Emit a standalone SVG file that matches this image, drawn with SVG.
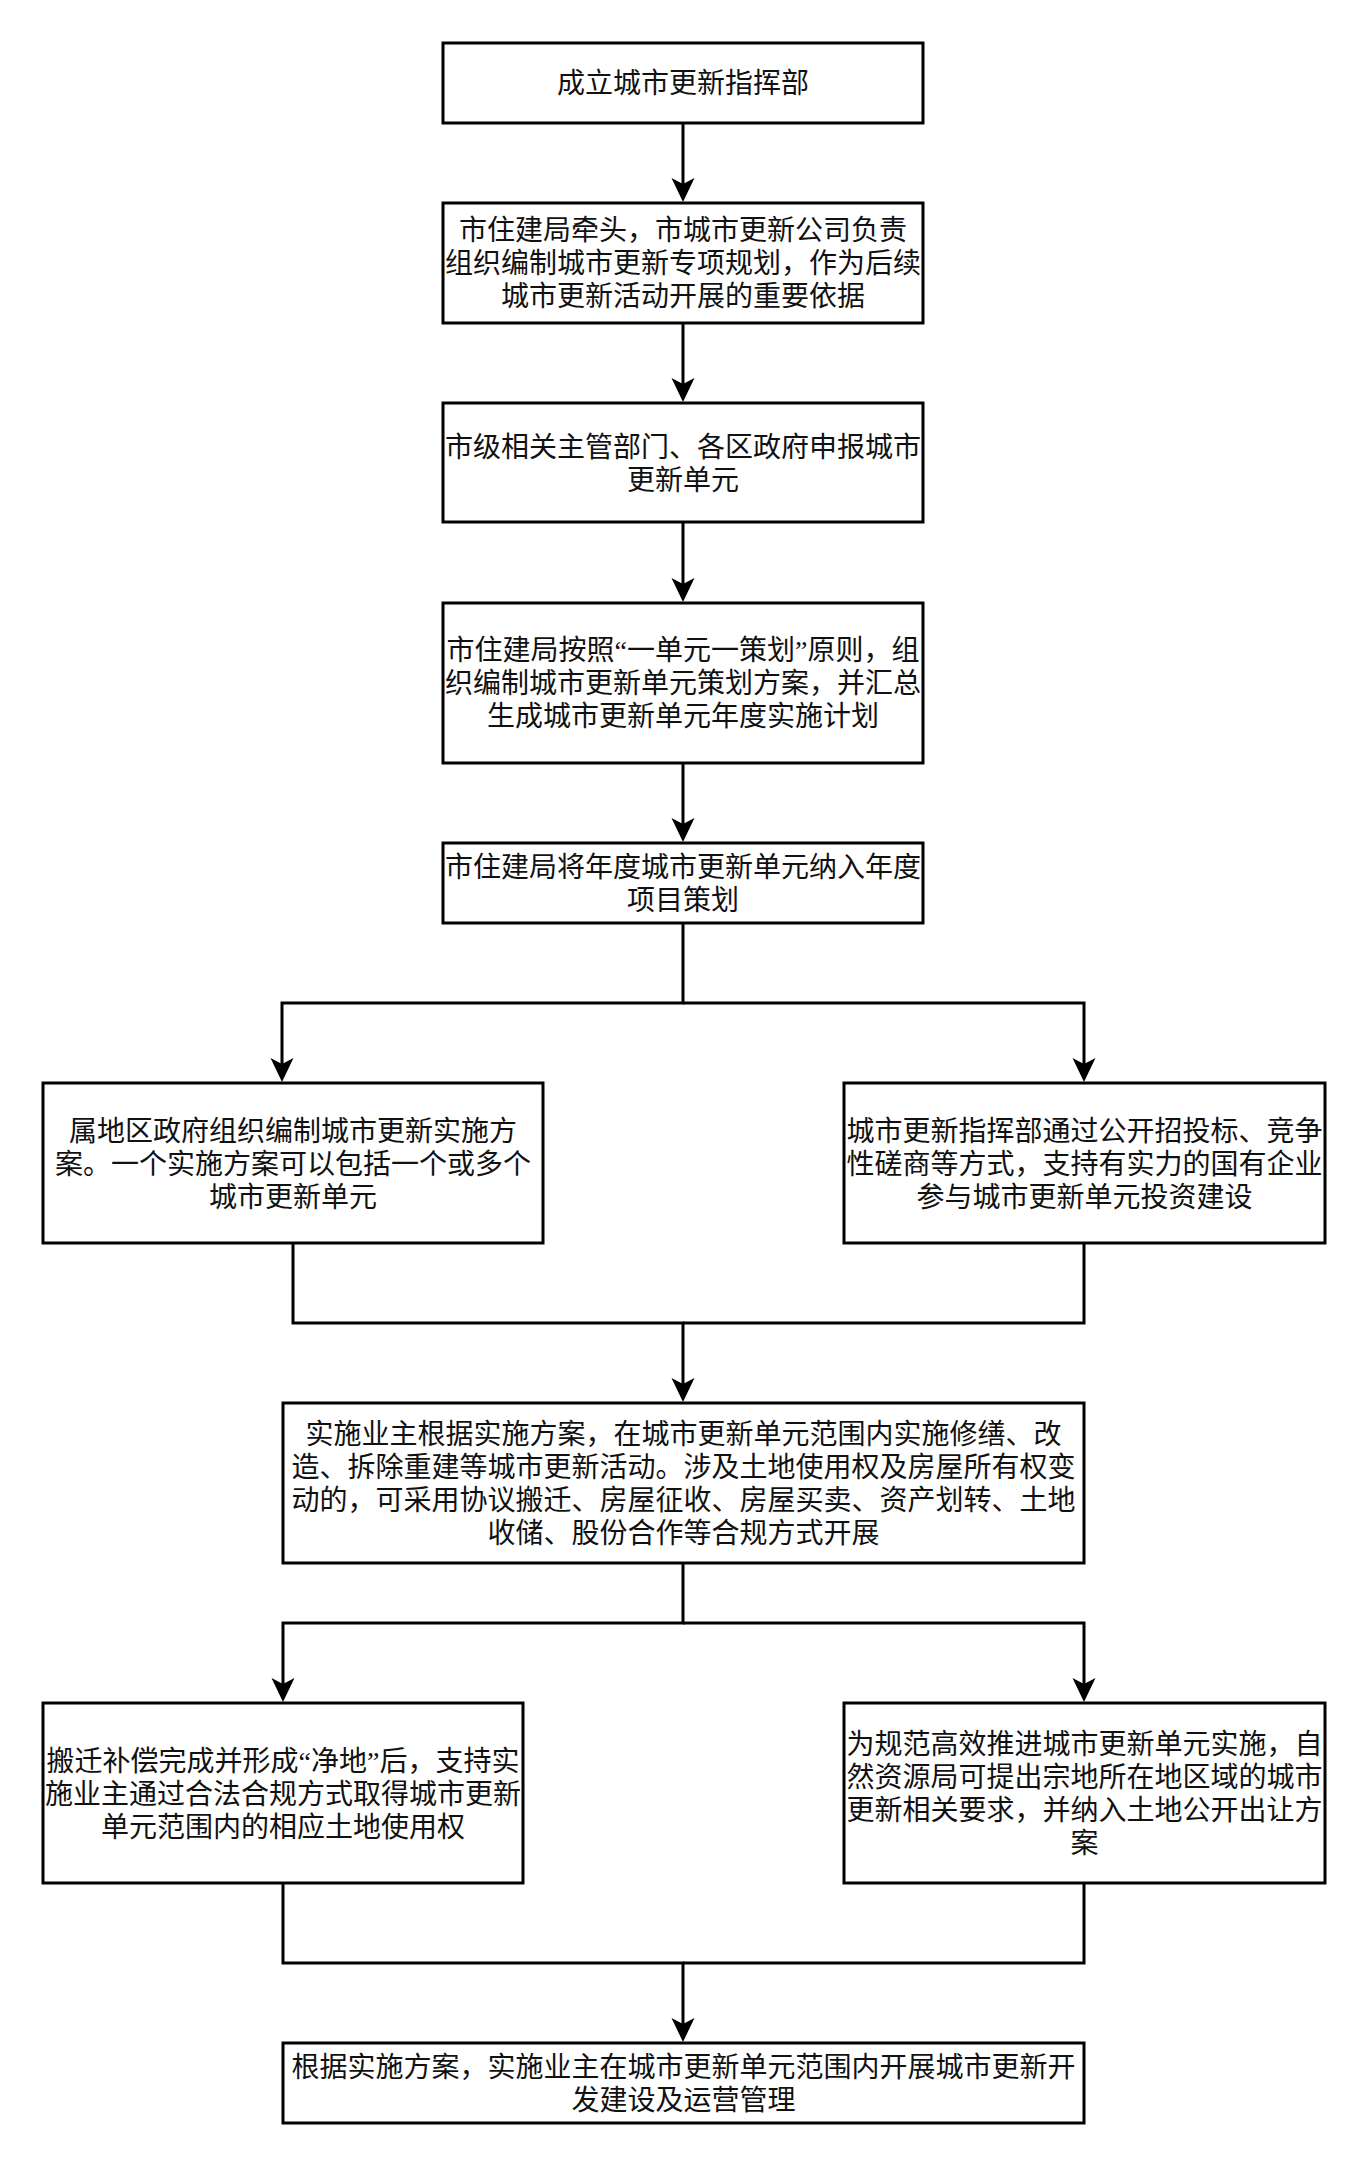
<svg xmlns="http://www.w3.org/2000/svg" width="1364" height="2164" viewBox="0 0 1364 2164">
<style>
.box{fill:#fff;stroke:#000;stroke-width:3}
.ln{fill:none;stroke:#000;stroke-width:3}
.t{font-family:"Liberation Serif","Noto Sans CJK SC",serif;font-size:28px;fill:#111;text-anchor:middle;dominant-baseline:central}
</style>
<defs>
<marker id="arr" markerUnits="userSpaceOnUse" viewBox="0 0 24 24" markerWidth="24" markerHeight="24" refX="6" refY="12" orient="auto">
<path d="M24,12 L0,0.5 L6,12 L0,23.5 Z" fill="#000"/>
</marker>
</defs>
<rect width="1364" height="2164" fill="#fff"/>
<g id="connectors">
<path class="ln" d="M683,123 V184" marker-end="url(#arr)"/>
<path class="ln" d="M683,323 V384" marker-end="url(#arr)"/>
<path class="ln" d="M683,522 V584" marker-end="url(#arr)"/>
<path class="ln" d="M683,763 V824" marker-end="url(#arr)"/>
<path class="ln" d="M683,923 V1003 H282 V1064" marker-end="url(#arr)"/>
<path class="ln" d="M683,1003 H1084 V1064" marker-end="url(#arr)"/>
<path class="ln" d="M293,1243 V1323 H683 V1384" marker-end="url(#arr)"/>
<path class="ln" d="M1084,1243 V1323 H683"/>
<path class="ln" d="M683,1563 V1623 H283 V1684" marker-end="url(#arr)"/>
<path class="ln" d="M683,1623 H1084 V1684" marker-end="url(#arr)"/>
<path class="ln" d="M283,1883 V1963 H683 V2024" marker-end="url(#arr)"/>
<path class="ln" d="M1084,1883 V1963 H683"/>
</g>
<g id="n1"><rect class="box" x="443" y="43" width="480" height="80"/>
<text class="t" x="683" y="83">成立城市更新指挥部</text></g>
<g id="n2"><rect class="box" x="443" y="203" width="480" height="120"/>
<text class="t" x="683" y="230">市住建局牵头，市城市更新公司负责</text>
<text class="t" x="683" y="263">组织编制城市更新专项规划，作为后续</text>
<text class="t" x="683" y="296">城市更新活动开展的重要依据</text></g>
<g id="n3"><rect class="box" x="443" y="403" width="480" height="119"/>
<text class="t" x="683" y="447">市级相关主管部门、各区政府申报城市</text>
<text class="t" x="683" y="480">更新单元</text></g>
<g id="n4"><rect class="box" x="443" y="603" width="480" height="160"/>
<text class="t" x="683" y="650">市住建局按照“一单元一策划”原则，组</text>
<text class="t" x="683" y="683">织编制城市更新单元策划方案，并汇总</text>
<text class="t" x="683" y="716">生成城市更新单元年度实施计划</text></g>
<g id="n5"><rect class="box" x="443" y="843" width="480" height="80"/>
<text class="t" x="683" y="867">市住建局将年度城市更新单元纳入年度</text>
<text class="t" x="683" y="900">项目策划</text></g>
<g id="n6"><rect class="box" x="43" y="1083" width="500" height="160"/>
<text class="t" x="293" y="1131">属地区政府组织编制城市更新实施方</text>
<text class="t" x="293" y="1164">案。一个实施方案可以包括一个或多个</text>
<text class="t" x="293" y="1197">城市更新单元</text></g>
<g id="n7"><rect class="box" x="844" y="1083" width="481" height="160"/>
<text class="t" x="1084.5" y="1131">城市更新指挥部通过公开招投标、竞争</text>
<text class="t" x="1084.5" y="1164">性磋商等方式，支持有实力的国有企业</text>
<text class="t" x="1084.5" y="1197">参与城市更新单元投资建设</text></g>
<g id="n8"><rect class="box" x="283" y="1403" width="801" height="160"/>
<text class="t" x="683.5" y="1434">实施业主根据实施方案，在城市更新单元范围内实施修缮、改</text>
<text class="t" x="683.5" y="1467">造、拆除重建等城市更新活动。涉及土地使用权及房屋所有权变</text>
<text class="t" x="683.5" y="1500">动的，可采用协议搬迁、房屋征收、房屋买卖、资产划转、土地</text>
<text class="t" x="683.5" y="1533">收储、股份合作等合规方式开展</text></g>
<g id="n9"><rect class="box" x="43" y="1703" width="480" height="180"/>
<text class="t" x="283" y="1761">搬迁补偿完成并形成“净地”后，支持实</text>
<text class="t" x="283" y="1794">施业主通过合法合规方式取得城市更新</text>
<text class="t" x="283" y="1827">单元范围内的相应土地使用权</text></g>
<g id="n10"><rect class="box" x="844" y="1703" width="481" height="180"/>
<text class="t" x="1084.5" y="1744">为规范高效推进城市更新单元实施，自</text>
<text class="t" x="1084.5" y="1777">然资源局可提出宗地所在地区域的城市</text>
<text class="t" x="1084.5" y="1810">更新相关要求，并纳入土地公开出让方</text>
<text class="t" x="1084.5" y="1843">案</text></g>
<g id="n11"><rect class="box" x="283" y="2043" width="801" height="80"/>
<text class="t" x="683.5" y="2067">根据实施方案，实施业主在城市更新单元范围内开展城市更新开</text>
<text class="t" x="683.5" y="2100">发建设及运营管理</text></g>
</svg>
